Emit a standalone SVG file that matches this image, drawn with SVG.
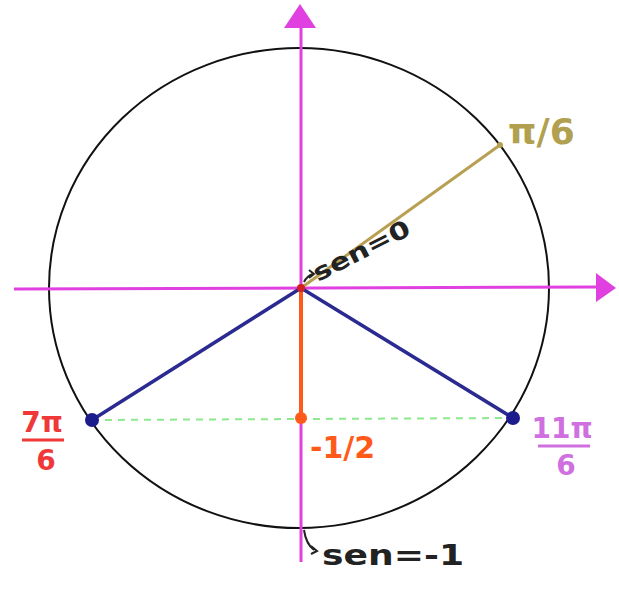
<svg xmlns="http://www.w3.org/2000/svg" width="619" height="604" viewBox="0 0 619 604">
<style>
.lbl{font-family:"DejaVu Sans","Liberation Sans",sans-serif;font-weight:bold}
.ax{stroke:#e040e0;stroke-width:3;fill:none}
.blue{stroke:#2a2a90;stroke-width:3.5;fill:none}
.blk{fill:#222}
</style>
<rect width="619" height="604" fill="#ffffff"/>
<g id="circle"><ellipse cx="299" cy="288" rx="250" ry="240" fill="none" stroke="#111" stroke-width="2"/></g>
<g id="connectors">
<line class="ax" x1="14" y1="289" x2="598" y2="287"/>
<polygon points="596,273 616,288 596,302" fill="#e040e0"/>
<line class="ax" x1="301" y1="562" x2="301" y2="24"/>
<polygon points="284,28 300,4 316,28" fill="#e040e0"/>
<line x1="301" y1="288" x2="500" y2="145" stroke="#b8a052" stroke-width="3"/>
<line x1="92" y1="420" x2="513" y2="418" stroke="#8ee88e" stroke-width="2" stroke-dasharray="7,6"/>
<line class="blue" x1="301" y1="288" x2="92" y2="420"/>
<line class="blue" x1="301" y1="288" x2="513" y2="418"/>
<line x1="301" y1="290" x2="301" y2="418" stroke="#ff5a1a" stroke-width="4"/>
<path d="M304,282 q3,-6 9,-8 M309,270 l5,4 l-5,4" stroke="#222" stroke-width="2" fill="none"/>
<path d="M304,530 q2,14 10,20 M311,546 l6,5 l-6,3" stroke="#222" stroke-width="2" fill="none"/>
</g>
<g id="origin"><circle cx="301" cy="288" r="4" fill="#d02020"/></g>
<g id="p7pi6"><circle cx="92" cy="420" r="7" fill="#1c1c8c"/></g>
<g id="p11pi6"><circle cx="513" cy="418" r="7" fill="#1c1c8c"/></g>
<g id="psin"><circle cx="301" cy="418" r="6" fill="#ff5a1a"/></g>
<g id="pi6"><circle cx="500" cy="145" r="3" fill="#b8a052"/></g>
<g id="label-pi6"><text class="lbl" x="508" y="144" font-size="36" fill="#b0a050">π/6</text></g>
<g id="label-sen0"><text class="lbl blk" x="318" y="282" font-size="24" textLength="106" lengthAdjust="spacingAndGlyphs" transform="rotate(-27 318 282)">sen=0</text></g>
<g id="label-7pi6">
<text class="lbl" x="42" y="432" font-size="28" fill="#f03838" text-anchor="middle">7π</text>
<line x1="22" y1="440" x2="64" y2="440" stroke="#f03838" stroke-width="3"/>
<text class="lbl" x="46" y="470" font-size="28" fill="#f03838" text-anchor="middle">6</text>
</g>
<g id="label-11pi6">
<text class="lbl" x="562" y="438" font-size="28" fill="#d070e0" text-anchor="middle">11π</text>
<line x1="538" y1="446" x2="590" y2="446" stroke="#d070e0" stroke-width="3"/>
<text class="lbl" x="566" y="475" font-size="28" fill="#d070e0" text-anchor="middle">6</text>
</g>
<g id="label-sin"><text class="lbl" x="310" y="458" font-size="30" fill="#ff5a1a">-1/2</text></g>
<g id="label-senm1"><text class="lbl blk" x="322" y="565" font-size="28" textLength="142" lengthAdjust="spacingAndGlyphs">sen=-1</text></g>
</svg>
